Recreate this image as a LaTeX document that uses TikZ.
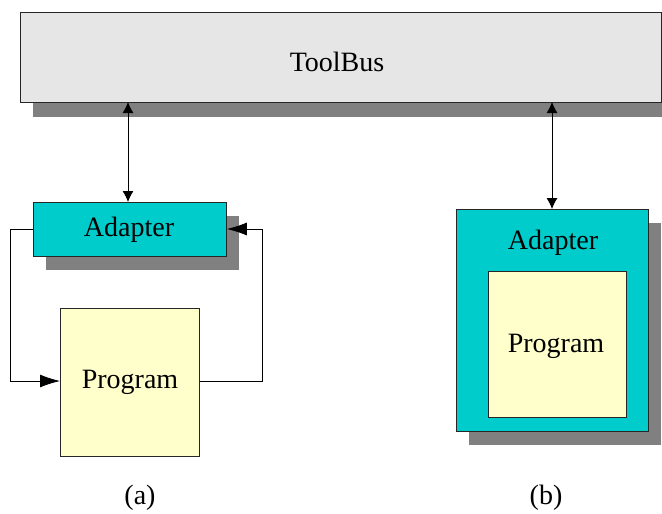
\documentclass[tikz,border=0pt]{standalone}
\usepackage{fontspec}
\setmainfont{Liberation Serif}
\usetikzlibrary{arrows.meta,shadows}
\definecolor{busgray}{HTML}{E6E6E6}
\definecolor{adcyan}{HTML}{00CCCC}
\definecolor{progyellow}{HTML}{FFFFCC}
\definecolor{shadowgray}{HTML}{808080}
\begin{document}
\begin{tikzpicture}[x=1pt,y=-1pt,
  every node/.style={font=\fontsize{28}{32}\selectfont},
  boxstyle/.style={draw=black!85, line width=0.8pt, rectangle, inner sep=0pt, anchor=north west},
  shad/.style={general shadow={fill=shadowgray, shadow xshift=13pt, shadow yshift=-14pt}},
  conn/.style={line width=0.8pt, black},
  bigtip/.style={-{Latex[length=20pt,width=13pt]}},
]
\useasboundingbox (0,0) rectangle (662,514);
% ToolBus
\node[boxstyle, fill=busgray, general shadow={fill=shadowgray, shadow xshift=13pt, shadow yshift=-15pt},
  minimum width=641pt, minimum height=90pt] (bus) at (20,12) {};
\node (bustext) at (337,62) {ToolBus};
% (a)
\node[boxstyle, fill=adcyan, shad, minimum width=193pt, minimum height=54pt] (ada) at (33,202) {};
\node (adatext) at (129,230) {Adapter};
\node[boxstyle, fill=progyellow, minimum width=139pt, minimum height=148pt] (proga) at (60,308) {};
\node (progatext) at (130,382) {Program};
% (b)
\node[boxstyle, fill=adcyan, shad, minimum width=192pt, minimum height=222pt] (adb) at (456,209) {};
\node (adbtext) at (553,243) {Adapter};
\node[boxstyle, fill=progyellow, minimum width=138pt, minimum height=146pt] (progb) at (488,271) {};
\node (progbtext) at (556,346) {Program};
% labels
\node (la) at (140,498) {(a)};
\node (lb) at (546,498) {(b)};
% connectors
\coordinate (a1) at (128,102);
\coordinate (b1) at (552,102);
\draw[conn, {Latex[length=11pt,width=11pt]}-{Latex[length=11pt,width=11pt]}] (a1) -- (a1 |- ada.north);
\draw[conn, {Latex[length=11pt,width=11pt]}-{Latex[length=11pt,width=11pt]}] (b1) -- (b1 |- adb.north);
\coordinate (ya) at (0,229);
\coordinate (yp) at (0,381);
\draw[conn, bigtip] (ada.west |- ya) -- (10,229) -- (10,381) -- (proga.west |- yp);
\draw[conn, bigtip] (proga.east |- yp) -- (262,381) -- (262,229) -- (ada.east |- ya);
\end{tikzpicture}
\end{document}
